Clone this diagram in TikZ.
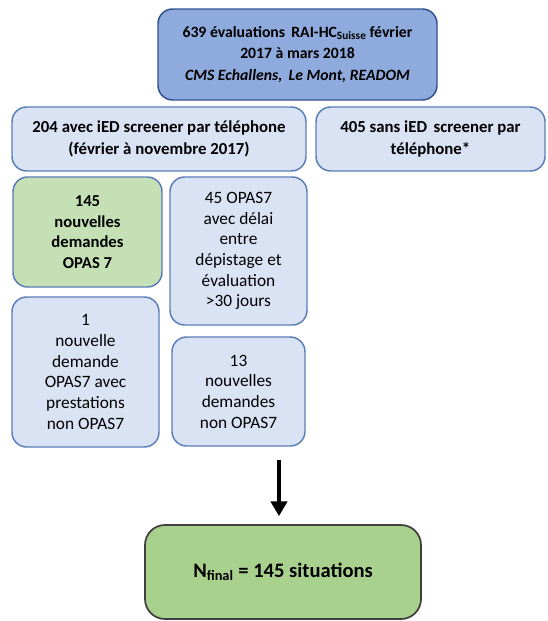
\documentclass[tikz,border=0pt]{standalone}
\usepackage{fontspec}
\setmainfont{Carlito}
\usetikzlibrary{arrows.meta}
\definecolor{topfill}{HTML}{8FAADC}
\definecolor{topdraw}{HTML}{2F528F}
\definecolor{lightfill}{HTML}{DAE3F3}
\definecolor{lightdraw}{HTML}{5B7DB8}
\definecolor{greenfill}{HTML}{C5E0B4}
\definecolor{finalfill}{HTML}{A9D18E}
\definecolor{finaldraw}{HTML}{404040}
\begin{document}
\begin{tikzpicture}[x=0.75pt,y=-0.75pt,
  boxbase/.style={rounded corners=11pt, line width=1.1pt, align=center, inner sep=0pt,
    font=\fontsize{13}{15.5}\selectfont},
  topbox/.style={boxbase, fill=topfill, draw=topdraw, font=\fontsize{11.8}{16}\selectfont\bfseries},
  lightbox/.style={boxbase, fill=lightfill, draw=lightdraw},
  widebox/.style={lightbox, font=\fontsize{12.6}{16.5}\selectfont\bfseries},
  greenbox/.style={boxbase, fill=greenfill, draw=lightdraw, font=\fontsize{12.5}{15.5}\selectfont\bfseries},
  finalbox/.style={boxbase, rounded corners=15pt, fill=finalfill, draw=finaldraw, line width=1.3pt,
    font=\fontsize{15.4}{18}\selectfont\bfseries},
  bigarrow/.style={line width=3pt, -{Triangle[width=12pt,length=11pt]}, shorten >=6pt}
]
\useasboundingbox (0,0) rectangle (547,621);

\node[topbox, minimum width=279*0.75pt, minimum height=91*0.75pt] (top) at (297.5,54.5)
  {639 évaluations\, RAI-HC{\fontsize{8.5}{8.5}\selectfont\raisebox{-1.5pt}{Suisse}} février\\
   2017 à mars 2018\\
   \itshape CMS Echallens,\, Le Mont, READOM};

\node[widebox, minimum width=294*0.75pt, minimum height=64*0.75pt] (b204) at (159,139)
  {204 avec iED screener par téléphone\\ (février à novembre 2017)};

\node[widebox, minimum width=229*0.75pt, minimum height=64*0.75pt] (b405) at (430.5,139)
  {405 sans iED\, screener par\\ téléphone*};

\node[greenbox, minimum width=149*0.75pt, minimum height=110*0.75pt] (b145) at (87.5,232)
  {145\\ nouvelles\\ demandes\\ OPAS 7};

\node[lightbox, minimum width=137*0.75pt, minimum height=148*0.75pt] (b45) at (238.5,251)
  {45 OPAS7\\ avec délai\\ entre\\ dépistage et\\ évaluation\\ >30 jours};

\node[lightbox, minimum width=147*0.75pt, minimum height=150*0.75pt] (b1) at (85.5,372)
  {1\\ nouvelle\\ demande\\ OPAS7 avec\\ prestations\\ non OPAS7};

\node[lightbox, minimum width=133*0.75pt, minimum height=109*0.75pt] (b13) at (238.5,391.5)
  {13\\ nouvelles\\ demandes\\ non OPAS7};

\node[finalbox, minimum width=276*0.75pt, minimum height=94*0.75pt] (final) at (283,572)
  {N\textsubscript{final} = 145 situations};

\coordinate (arrstart) at (279,460);
\draw[bigarrow] (arrstart) -- (final.north -| arrstart);
\end{tikzpicture}
\end{document}
